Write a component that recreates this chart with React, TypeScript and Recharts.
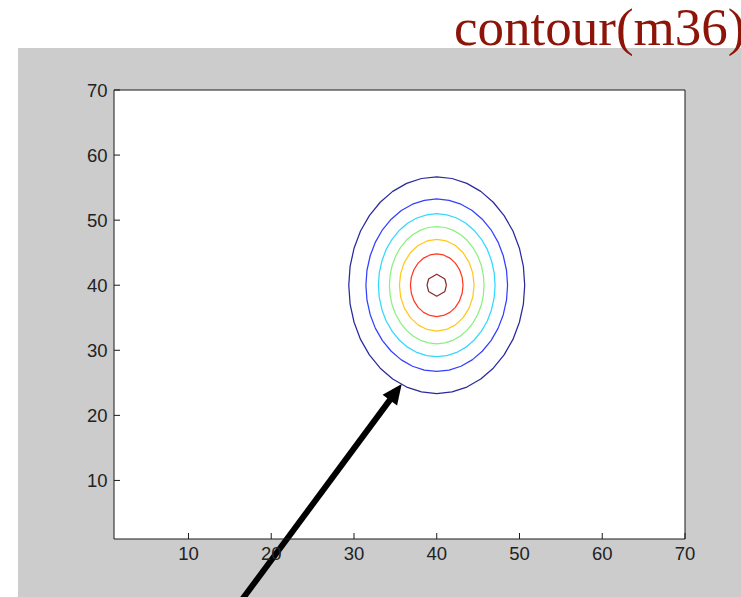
import React from 'react';
import { ScatterChart, Scatter, XAxis, YAxis, CartesianGrid, ReferenceLine } from 'recharts';

type Pt = { x: number; y: number };
const toPoints = (pairs: number[][]): Pt[] => pairs.map(([x, y]) => ({ x, y }));

// Axis ticks and the matrix index range (1..70 in both directions)
const xTicks = [10, 20, 30, 40, 50, 60, 70];
const yTicks = [10, 20, 30, 40, 50, 60, 70];
const indexRange: [number, number] = [1, 70];

// Contour lines of m36, outermost (lowest level) first
const contour1 = toPoints([
  [50.63, 40], [50.47, 42.89], [49.99, 45.69], [49.21, 48.33], [48.14, 50.7], [46.83, 52.75],
  [45.32, 54.42], [43.64, 55.65], [41.85, 56.4], [40, 56.65],
  [38.15, 56.4], [36.36, 55.65], [34.68, 54.42], [33.17, 52.75], [31.86, 50.7], [30.79, 48.33],
  [30.01, 45.69], [29.53, 42.89], [29.37, 40],
  [29.53, 37.11], [30.01, 34.31], [30.79, 31.67], [31.86, 29.3], [33.17, 27.25], [34.68, 25.58],
  [36.36, 24.35], [38.15, 23.6], [40, 23.35],
  [41.85, 23.6], [43.64, 24.35], [45.32, 25.58], [46.83, 27.25], [48.14, 29.3], [49.21, 31.67],
  [49.99, 34.31], [50.47, 37.11], [50.63, 40],
]);
const contour2 = toPoints([
  [48.56, 40], [48.43, 42.3], [48.04, 44.53], [47.41, 46.63], [46.56, 48.52], [45.5, 50.15],
  [44.28, 51.47], [42.93, 52.45], [41.49, 53.05], [40, 53.25],
  [38.51, 53.05], [37.07, 52.45], [35.72, 51.47], [34.5, 50.15], [33.44, 48.52], [32.59, 46.63],
  [31.96, 44.53], [31.57, 42.3], [31.44, 40],
  [31.57, 37.7], [31.96, 35.47], [32.59, 33.37], [33.44, 31.48], [34.5, 29.85], [35.72, 28.53],
  [37.07, 27.55], [38.51, 26.95], [40, 26.75],
  [41.49, 26.95], [42.93, 27.55], [44.28, 28.53], [45.5, 29.85], [46.56, 31.48], [47.41, 33.37],
  [48.04, 35.47], [48.43, 37.7], [48.56, 40],
]);
const contour3 = toPoints([
  [47.05, 40], [46.94, 41.91], [46.62, 43.76], [46.11, 45.5], [45.4, 47.06], [44.53, 48.42],
  [43.53, 49.52], [42.41, 50.33], [41.22, 50.82], [40, 50.99],
  [38.78, 50.82], [37.59, 50.33], [36.47, 49.52], [35.47, 48.42], [34.6, 47.06], [33.89, 45.5],
  [33.38, 43.76], [33.06, 41.91], [32.95, 40],
  [33.06, 38.09], [33.38, 36.24], [33.89, 34.5], [34.6, 32.94], [35.47, 31.58], [36.47, 30.48],
  [37.59, 29.67], [38.78, 29.18], [40, 29.01],
  [41.22, 29.18], [42.41, 29.67], [43.53, 30.48], [44.53, 31.58], [45.4, 32.94], [46.11, 34.5],
  [46.62, 36.24], [46.94, 38.09], [47.05, 40],
]);
const contour4 = toPoints([
  [45.72, 40], [45.63, 41.56], [45.38, 43.08], [44.95, 44.51], [44.38, 45.79], [43.68, 46.9],
  [42.86, 47.8], [41.96, 48.47], [40.99, 48.87], [40, 49.01],
  [39.01, 48.87], [38.04, 48.47], [37.14, 47.8], [36.32, 46.9], [35.62, 45.79], [35.05, 44.51],
  [34.62, 43.08], [34.37, 41.56], [34.28, 40],
  [34.37, 38.44], [34.62, 36.92], [35.05, 35.49], [35.62, 34.21], [36.32, 33.1], [37.14, 32.2],
  [38.04, 31.53], [39.01, 31.13], [40, 30.99],
  [40.99, 31.13], [41.96, 31.53], [42.86, 32.2], [43.68, 33.1], [44.38, 34.21], [44.95, 35.49],
  [45.38, 36.92], [45.63, 38.44], [45.72, 40],
]);
const contour5 = toPoints([
  [44.51, 40], [44.36, 41.82], [43.91, 43.52], [43.19, 44.98], [42.26, 46.1], [41.17, 46.8], [40, 47.04],
  [38.83, 46.8], [37.74, 46.1], [36.81, 44.98], [36.09, 43.52], [35.64, 41.82], [35.49, 40],
  [35.64, 38.18], [36.09, 36.48], [36.81, 35.02], [37.74, 33.9], [38.83, 33.2], [40, 32.96],
  [41.17, 33.2], [42.26, 33.9], [43.19, 35.02], [43.91, 36.48], [44.36, 38.18], [44.51, 40],
]);
const contour6 = toPoints([
  [43.18, 40], [43.07, 41.24], [42.75, 42.41], [42.25, 43.4], [41.59, 44.17], [40.82, 44.65], [40, 44.81],
  [39.18, 44.65], [38.41, 44.17], [37.75, 43.4], [37.25, 42.41], [36.93, 41.24], [36.82, 40],
  [36.93, 38.76], [37.25, 37.59], [37.75, 36.6], [38.41, 35.83], [39.18, 35.35], [40, 35.19],
  [40.82, 35.35], [41.59, 35.83], [42.25, 36.6], [42.75, 37.59], [43.07, 38.76], [43.18, 40],
]);
const contour7 = toPoints([
  [41.17, 40], [41, 40.88], [40.94, 41], [40, 41.69], [39.06, 41], [39, 40.88],
  [38.83, 40], [39, 39.12], [39.06, 39], [40, 38.31], [40.94, 39], [41, 39.12], [41.17, 40],
]);

const contours = [contour1, contour2, contour3, contour4, contour5, contour6, contour7];
// jet colormap, one colour per level
const contourColors = ['#2a2a9e', '#3340ff', '#33d8ff', '#8af080', '#ffc81a', '#ff3822', '#8a2a2a'];

// Pointer annotation (data coordinates of tail and tip)
const arrowTail = { x: 15.36, y: -10.22 };
const arrowTip = { x: 35.77, y: 24.82 };

const tickFont = {
  fill: '#222',
  fontSize: 18.5,
  fontFamily: "'Liberation Sans Narrow', 'Liberation Sans', Arial, sans-serif",
};

const NoDot = () => <g />;

const ArrowShape = (p: any) => {
  const { x1, y1, x2, y2 } = p;
  const dx = x2 - x1;
  const dy = y2 - y1;
  const len = Math.hypot(dx, dy) || 1;
  const ux = dx / len;
  const uy = dy / len;
  const headLen = 20;
  const headHalf = 9;
  const bx = x2 - ux * headLen;
  const by = y2 - uy * headLen;
  const nx = -uy;
  const ny = ux;
  return (
    <g>
      <line x1={x1} y1={y1} x2={bx + ux * 3} y2={by + uy * 3} stroke="#000" strokeWidth={6} />
      <polygon
        points={`${x2},${y2} ${bx + nx * headHalf},${by + ny * headHalf} ${bx - nx * headHalf},${by - ny * headHalf}`}
        fill="#000"
      />
    </g>
  );
};

export default function App() {
  const axisStroke = '#1a1a1a';
  return (
    <div style={{ position: 'absolute', left: 0, top: 0, width: 741, height: 597, overflow: 'hidden', background: '#fff' }}>
      <div style={{ position: 'absolute', left: 18, top: 48, width: 723, height: 549, background: '#cccccc' }} />
      <div style={{ position: 'absolute', left: 0, top: 0 }}>
        <ScatterChart width={741} height={597} margin={{ top: 89, right: 55, bottom: 28, left: 0 }}>
          <CartesianGrid xAxisId="b" yAxisId="l" fill="#ffffff" horizontal={false} vertical={false} />
          <XAxis
            xAxisId="b"
            type="number"
            dataKey="x"
            domain={indexRange}
            allowDataOverflow
            ticks={xTicks}
            interval={0}
            height={30}
            tickSize={-6}
            tickMargin={14}
            tick={tickFont}
            stroke={axisStroke}
          />
          <XAxis
            xAxisId="t"
            orientation="top"
            type="number"
            dataKey="x"
            domain={indexRange}
            allowDataOverflow
            ticks={xTicks}
            interval={0}
            height={1}
            tickSize={-6}
            tick={false}
            stroke={axisStroke}
          />
          <YAxis
            yAxisId="l"
            type="number"
            dataKey="y"
            domain={indexRange}
            allowDataOverflow
            ticks={yTicks}
            interval={0}
            width={114}
            tickSize={-6}
            tickMargin={12.5}
            tick={tickFont}
            stroke={axisStroke}
          />
          <YAxis
            yAxisId="r"
            orientation="right"
            type="number"
            dataKey="y"
            domain={indexRange}
            allowDataOverflow
            ticks={yTicks}
            interval={0}
            width={1}
            tickSize={-6}
            tick={false}
            stroke={axisStroke}
          />
          {contours.map((pts, i) => (
            <Scatter
              key={i}
              xAxisId="b"
              yAxisId="l"
              data={pts}
              fill={contourColors[i]}
              line={{ stroke: contourColors[i], strokeWidth: 1.25, strokeLinejoin: 'round' }}
              lineType="joint"
              shape={NoDot}
              isAnimationActive={false}
            />
          ))}
          <ReferenceLine
            xAxisId="b"
            yAxisId="l"
            segment={[arrowTail, arrowTip]}
            ifOverflow="visible"
            shape={ArrowShape}
          />
        </ScatterChart>
      </div>
      <svg width={741} height={60} style={{ position: 'absolute', left: 0, top: 0 }}>
        <text
          x={454}
          y={45}
          fill="#8c1408"
          fontSize={53}
          fontFamily="'Liberation Serif', 'Times New Roman', serif"
        >
          contour(m36)
        </text>
      </svg>
    </div>
  );
}
